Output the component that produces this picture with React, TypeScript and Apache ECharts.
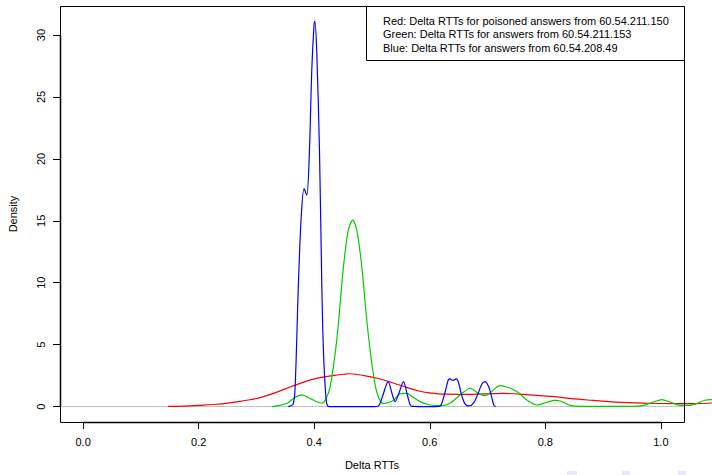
import React, { useEffect, useRef } from "react";
import * as echarts from "echarts";

const xTicks = [0, 0.2, 0.4, 0.6, 0.8, 1.0];
const yTicks = [0, 5, 10, 15, 20, 25, 30];

const legendLines = [
  "Red: Delta RTTs for poisoned answers from 60.54.211.150",
  "Green: Delta RTTs for answers from 60.54.211.153",
  "Blue: Delta RTTs for answers from 60.54.208.49",
];

const redX = [0.147, 0.175, 0.2, 0.225, 0.25, 0.275, 0.3064, 0.341, 0.3756, 0.41, 0.4506, 0.46, 0.4795, 0.514, 0.549, 0.583, 0.606, 0.63, 0.67, 0.7276, 0.774, 0.81, 0.85, 0.883, 0.941, 0.999, 1.056, 1.0885];
const redY = [0.02, 0.045, 0.1, 0.17, 0.28, 0.45, 0.73, 1.27, 1.88, 2.34, 2.61, 2.65, 2.55, 2.23, 1.72, 1.24, 1.08, 1.0, 0.99, 1.06, 0.94, 0.82, 0.62, 0.5, 0.32, 0.25, 0.24, 0.29];

const greenX = [0.327, 0.3526, 0.365, 0.3785, 0.395, 0.413, 0.42, 0.4275, 0.439, 0.4506, 0.459, 0.4668, 0.4737, 0.4824, 0.491, 0.4997, 0.5083, 0.5198, 0.537, 0.549, 0.56, 0.57, 0.583, 0.6007, 0.618, 0.635, 0.6526, 0.67, 0.684, 0.696, 0.7218, 0.736, 0.7507, 0.768, 0.785, 0.8027, 0.817, 0.8257, 0.843, 0.86, 0.95, 0.97, 0.987, 1.0017, 1.016, 1.0334, 1.048, 1.0619, 1.076, 1.0885];
const greenY = [0, 0.25, 0.7, 0.94, 0.6, 0.27, 0.6, 1.58, 5.36, 11.28, 14.24, 15.05, 14.24, 11.28, 6.97, 3.47, 1.18, 0.24, 0.5, 1.05, 1.07, 0.8, 0.4, 0.13, 0.07, 0.27, 0.94, 1.48, 1.07, 0.89, 1.7, 1.54, 1.21, 0.53, 0.13, 0.35, 0.51, 0.45, 0.1, 0.02, 0.02, 0.1, 0.37, 0.56, 0.37, 0.1, 0.1, 0.24, 0.51, 0.56];

const blueX = [0.355, 0.3635, 0.367, 0.3725, 0.3772, 0.3824, 0.3871, 0.3916, 0.3958, 0.3998, 0.4012, 0.4045, 0.4092, 0.4132, 0.4161, 0.4208, 0.4244, 0.43, 0.5, 0.511, 0.518, 0.528, 0.535, 0.54, 0.546, 0.5545, 0.562, 0.569, 0.61, 0.618, 0.625, 0.632, 0.635, 0.6406, 0.646, 0.65, 0.655, 0.66, 0.665, 0.668, 0.676, 0.684, 0.69, 0.696, 0.702, 0.707, 0.711, 0.714];
const blueY = [0, 0.2, 1.6, 9.7, 15.05, 17.6, 17.07, 20.5, 27.2, 30.9, 31.1, 28.5, 20.5, 9.66, 4.3, 0.5, 0.02, 0, 0, 0.05, 0.8, 2.02, 1.0, 0.4, 1.0, 2.02, 0.8, 0.02, 0, 0.05, 0.9, 2.15, 2.23, 2.12, 2.23, 1.9, 0.94, 0.3, 0.06, 0.05, 0.3, 1.1, 1.8, 2.02, 1.6, 0.8, 0.1, 0];

const zeroLineX = [-0.04, 1.04];
const zeroLineY = [0, 0];

const pairs = (xs: number[], ys: number[]) => xs.map((x, i) => [x, ys[i]]);

const FONT = "'Liberation Sans', Arial, Helvetica, sans-serif";

export default function App() {
  const ref = useRef<HTMLDivElement>(null);
  useEffect(() => {
    if (!ref.current) return;
    const chart = echarts.init(ref.current, undefined, { renderer: "svg" });
    const lineSeries = (name: string, xs: number[], ys: number[], color: string, width = 1.2, smooth = 0.3) => ({
      name,
      type: "line",
      data: pairs(xs, ys),
      showSymbol: false,
      smooth,
      lineStyle: { color, width },
      itemStyle: { color },
      silent: true,
    });
    chart.setOption({
      animation: false,
      backgroundColor: "#ffffff",
      grid: { left: 60, top: 6, width: 652, height: 416, containLabel: false },
      xAxis: {
        type: "value",
        min: -0.04,
        max: 1.0885,
        axisLine: { show: false, onZero: false },
        splitLine: { show: false },
        axisTick: { show: true, length: 7, inside: false, customValues: xTicks, lineStyle: { color: "#000", width: 1 } },
        axisLabel: {
          customValues: xTicks,
          formatter: (v: number) => v.toFixed(1),
          fontFamily: FONT,
          fontSize: 11,
          color: "#000",
          margin: 14,
        },
      },
      yAxis: {
        type: "value",
        min: -1.244,
        max: 32.344,
        axisLine: { show: false, onZero: false },
        splitLine: { show: false },
        axisTick: { show: true, length: 7, inside: false, customValues: yTicks, lineStyle: { color: "#000", width: 1 } },
        axisLabel: {
          customValues: yTicks,
          rotate: 90,
          fontFamily: FONT,
          fontSize: 11,
          color: "#000",
          margin: 14,
        },
      },
      series: [
        lineSeries("zero", zeroLineX, zeroLineY, "#BEBEBE", 1, 0),
        lineSeries("Red", redX, redY, "#FF0000", 1.2, 0.5),
        lineSeries("Green", greenX, greenY, "#00CD00"),
        lineSeries("Blue", blueX, blueY, "#0000FF"),
      ],
      graphic: [
        {
          type: "rect",
          shape: { x: 60.5, y: 6.5, width: 624, height: 416 },
          style: { fill: "none", stroke: "#000", lineWidth: 1 },
          z: 10,
        },
        {
          type: "line",
          shape: { x1: 60.5, y1: 35, x2: 60.5, y2: 406.3 },
          style: { stroke: "#000", lineWidth: 1.5 },
          z: 10,
        },
        {
          type: "line",
          shape: { x1: 83, y1: 422.5, x2: 660.7, y2: 422.5 },
          style: { stroke: "#000", lineWidth: 1.5 },
          z: 10,
        },
        {
          type: "rect",
          shape: { x: 366.5, y: 6.5, width: 318, height: 54 },
          style: { fill: "#ffffff", stroke: "#000", lineWidth: 1 },
          z: 11,
        },
        ...legendLines.map((t, i) => ({
          type: "text",
          x: 383,
          y: 20.7 + i * 13.5,
          style: { text: t, fontFamily: FONT, fontSize: 11, fill: "#000", align: "left", verticalAlign: "middle" },
          z: 12,
        })),
        {
          type: "text",
          x: 372,
          y: 465,
          style: { text: "Delta RTTs", fontFamily: FONT, fontSize: 11, fill: "#000", align: "center", verticalAlign: "middle" },
          z: 12,
        },
        {
          type: "text",
          x: 13,
          y: 214,
          rotation: Math.PI / 2,
          style: { text: "Density", fontFamily: FONT, fontSize: 11, fill: "#000", align: "center", verticalAlign: "middle" },
          z: 12,
        },
        ...[567, 622, 678].map((x, i) => ({
          type: "rect",
          shape: { x, y: 471, width: i === 0 ? 10 : 8, height: 4 },
          style: { fill: "#e8e8fa" },
          z: 12,
        })),
      ],
    });
    return () => chart.dispose();
  }, []);
  return <div ref={ref} style={{ width: 712, height: 475, position: "absolute", left: 0, top: 0 }} />;
}
